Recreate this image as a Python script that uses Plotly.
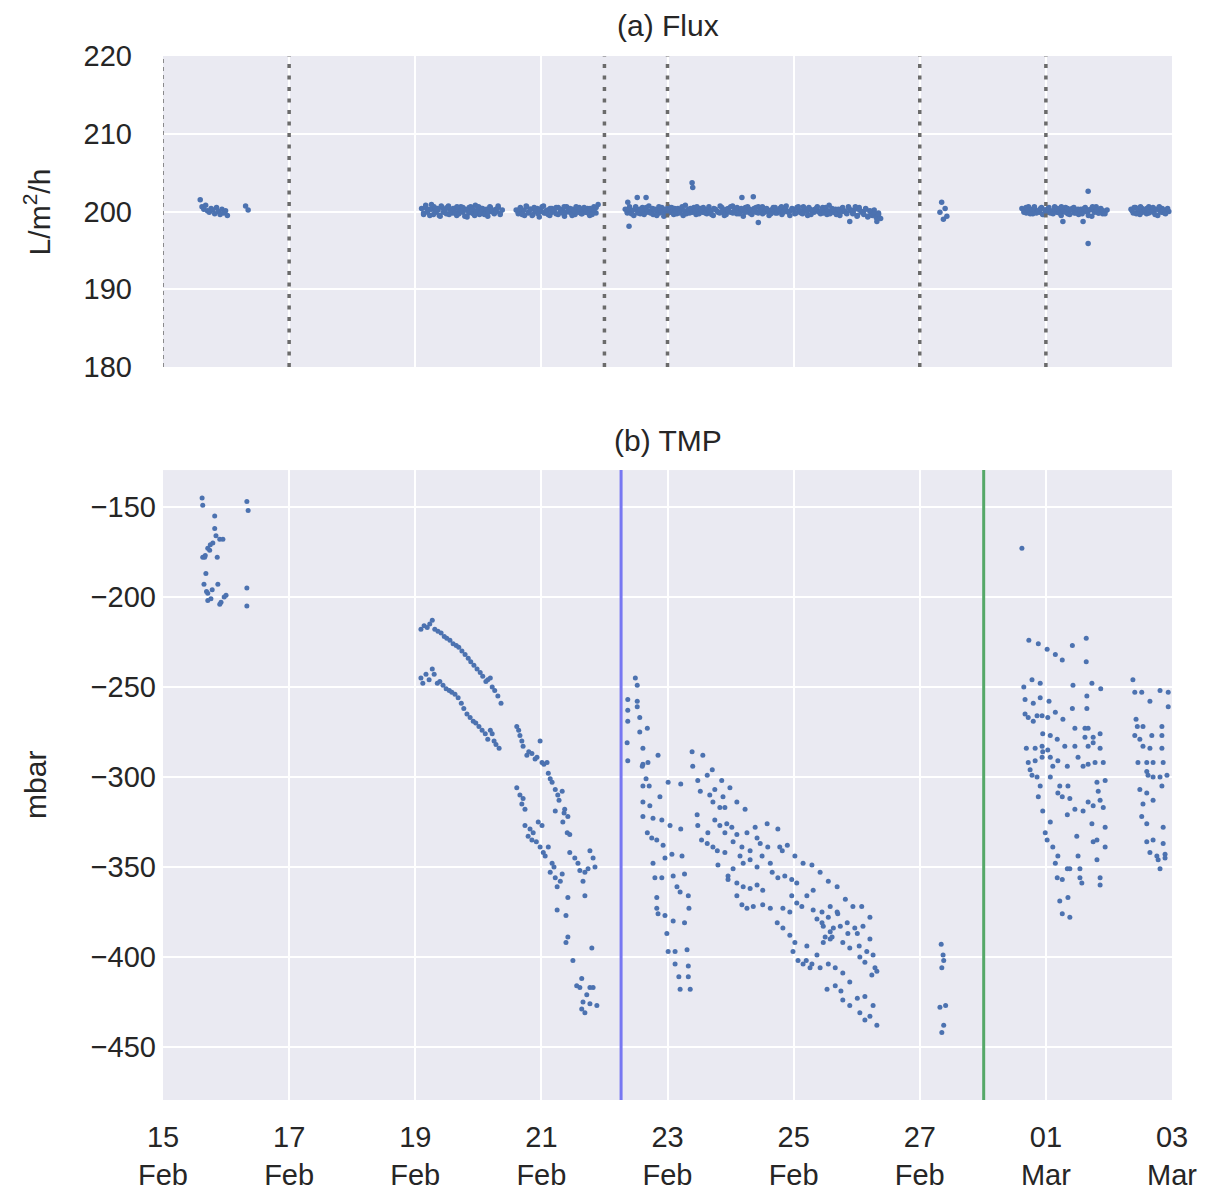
import pandas as pd
import plotly.graph_objects as go
from plotly.subplots import make_subplots

BASE = pd.Timestamp("2019-02-15")

# ---------------- Flux (L/m2/h) : logged runs (start, end, values) ----------------
flux_run1_span = ("2019-02-15 14:10", "2019-02-16 00:30")
flux_run1 = [201.5, 200.6, 200.3, 200.8, 200.1, 199.9, 200.4, 200.2, 199.7, 200.5,
             200.0, 199.6, 200.3, 199.8, 200.1, 199.5]
flux_run2_span = ("2019-02-16 07:26", "2019-02-16 08:24")
flux_run2 = [200.7, 200.2]
flux_run3_span = ("2019-02-19 02:24", "2019-02-20 09:07")
flux_run3 = [200.4, 199.6, 200.8, 200.1, 199.5, 200.3, 200.6, 199.9, 200.2, 199.4,
             200.5, 200.0, 199.7, 200.7, 200.2, 199.8, 200.4, 199.5, 200.1, 200.6,
             199.9, 200.3, 199.3, 200.5, 200.0, 199.7, 200.8, 200.2, 199.6, 200.4,
             199.9, 200.1, 199.4, 200.6, 200.0, 199.8, 200.3, 200.7, 199.6, 200.2]
flux_run3b_span = ("2019-02-19 03:10", "2019-02-20 08:20")
flux_run3b = [199.8, 200.5, 199.9, 200.3, 200.9, 199.6, 200.1, 200.4, 199.5, 200.7,
              199.9, 200.2, 200.5, 199.6, 200.0, 200.4, 199.8, 200.6, 199.7, 200.1,
              200.5, 199.4, 200.2, 199.8, 200.6, 200.3, 199.5, 199.9, 200.6, 199.8,
              200.4, 199.6, 200.3, 199.9, 200.5, 200.2, 199.7, 200.0, 200.5, 199.8]
flux_run4_span = ("2019-02-20 14:24", "2019-02-21 21:36")
flux_run4 = [200.2, 199.7, 200.5, 200.0, 199.5, 200.6, 199.9, 200.3, 199.6, 200.1,
             200.4, 199.3, 200.0, 200.7, 199.8, 200.2, 199.5, 200.4, 200.1, 199.7,
             200.5, 199.9, 200.2, 199.4, 200.6, 200.0, 199.8, 200.3, 199.6, 200.1,
             200.5, 199.7, 200.2, 199.9, 200.4, 199.5, 200.0, 200.6, 199.8, 200.9]
flux_run4b_span = ("2019-02-20 15:10", "2019-02-21 20:50")
flux_run4b = [199.9, 200.4, 199.6, 200.2, 200.7, 199.8, 200.3, 199.5, 200.5, 200.0,
              199.7, 200.3, 200.6, 199.8, 200.1, 199.6, 200.4, 199.9, 200.2, 200.5,
              199.6, 200.3, 199.8, 200.6, 199.9, 200.2, 200.4, 199.5, 200.1, 200.6,
              199.9, 200.3, 199.7, 200.5, 200.0, 199.8, 200.4, 199.6, 200.2, 200.5]
flux_run5_span = ("2019-02-22 07:55", "2019-02-26 09:07")
flux_run5 = [200.3, 199.8, 200.6, 200.1, 199.5, 200.4, 200.0, 199.7, 200.5, 200.2,
             199.9, 200.7, 200.1, 199.6, 200.3, 200.0, 199.8, 200.5, 199.4, 200.2,
             200.6, 199.9, 200.1, 200.4, 199.7, 200.0, 200.3, 199.5, 200.8, 200.1,
             199.8, 200.2, 200.5, 199.6, 200.0, 200.4, 199.9, 200.2, 199.7, 200.6,
             200.1, 199.5, 200.3, 200.0, 199.8, 200.5, 200.2, 199.6, 200.4, 199.9,
             200.7, 200.1, 199.7, 200.3, 200.0, 199.4, 200.5, 200.2, 199.8, 200.1,
             200.4, 199.9, 200.6, 200.0, 199.7, 200.3, 200.1, 199.5, 200.2, 200.5,
             199.8, 200.0, 200.4, 199.6, 200.2, 200.7, 199.9, 200.1, 200.3, 199.7,
             200.5, 200.0, 199.8, 200.6, 200.2, 199.5, 200.3, 200.1, 199.9, 200.4,
             200.0, 199.7, 200.5, 200.2, 199.6, 200.8, 200.1, 199.9, 200.3, 200.0,
             199.5, 200.4, 200.1, 199.8, 200.6, 200.2, 199.7, 200.3, 199.4, 200.5,
             200.0, 199.8, 200.4, 199.3, 200.1, 199.6, 200.2, 199.2, 199.8, 199.1]
flux_run5b_span = ("2019-02-22 08:40", "2019-02-26 08:20")
flux_run5b = [199.9, 200.4, 199.7, 200.2, 200.6, 199.8, 200.3, 200.1, 199.6, 200.5,
              200.0, 199.8, 200.4, 200.2, 199.5, 200.6, 200.1, 199.9, 200.3, 199.7,
              200.2, 200.5, 199.6, 200.0, 200.4, 199.8, 200.6, 200.1, 199.7, 200.3,
              200.4, 199.9, 200.1, 200.6, 199.7, 200.2, 200.5, 199.8, 200.3, 200.0,
              199.6, 200.4, 200.2, 199.9, 200.7, 200.0, 199.5, 200.3, 200.1, 200.6,
              199.8, 200.2, 200.5, 199.7, 200.4, 200.1, 199.9, 200.6, 200.3, 199.6,
              200.0, 200.5, 199.8, 200.2, 200.6, 199.9, 200.4, 200.0, 199.7, 200.3,
              200.5, 199.8, 200.1, 200.6, 199.9, 200.3, 200.0, 199.5, 200.4, 200.2,
              199.8, 200.6, 200.1, 199.7, 200.4, 200.0, 200.5, 199.6, 200.2, 200.3,
              200.6, 199.9, 200.2, 199.8, 200.5, 200.1, 199.7, 200.4, 200.2, 199.6,
              200.3, 199.9, 200.5, 200.0, 199.7, 200.4, 200.1, 199.8, 200.6, 199.5,
              200.2, 199.9, 199.6, 200.3, 199.4, 200.0, 199.5, 199.8, 199.3, 199.6]
flux_run6_span = ("2019-02-27 07:41", "2019-02-27 10:19")
flux_run6 = [199.9, 201.2, 199.0, 200.4, 199.4]
flux_run7_span = ("2019-02-28 14:53", "2019-03-01 23:17")
flux_run7 = [200.4, 200.1, 199.8, 200.6, 200.2, 199.7, 200.3, 200.0, 199.9, 200.5,
             199.6, 200.2, 200.4, 199.8, 200.1, 200.6, 199.9, 200.3, 199.5, 200.0,
             200.5, 199.7, 200.2, 200.4, 199.8, 200.1, 199.6, 200.3, 200.0, 200.5,
             199.9, 200.2, 199.4, 200.1, 200.6, 199.8, 200.3, 199.7, 200.0, 200.2]
flux_run7b_span = ("2019-02-28 15:40", "2019-03-01 22:30")
flux_run7b = [199.9, 200.5, 200.2, 199.7, 200.3, 200.6, 199.8, 200.1, 200.4, 199.6,
              200.2, 199.9, 200.5, 200.0, 199.7, 200.3, 200.4, 199.8, 200.6, 200.1,
              199.9, 200.4, 199.6, 200.2, 200.5, 199.8, 200.3, 200.0, 199.7, 200.4,
              200.1, 199.5, 200.3, 200.6, 199.9, 200.2, 199.8, 200.4, 200.1, 199.7]
flux_run8_span = ("2019-03-02 08:24", "2019-03-02 22:48")
flux_run8 = [200.3, 199.8, 200.5, 200.0, 199.6, 200.4, 200.1, 199.7, 200.6, 200.2,
             199.9, 200.3, 199.5, 200.1, 200.4, 199.8, 200.2, 200.0]
flux_run8b_span = ("2019-03-02 08:50", "2019-03-02 22:20")
flux_run8b = [200.1, 200.5, 199.7, 200.3, 200.6, 199.9, 200.2, 200.4, 199.8, 200.0,
              200.5, 199.6, 200.3, 200.6, 199.9, 200.2, 199.7, 200.4]
# isolated flux readings (day offset from 15 Feb, value)
flux_extra = [(7.37, 201.2), (7.39, 198.1), (7.52, 201.8), (7.66, 201.8), (8.39, 203.7),
              (8.40, 203.1), (9.18, 201.8), (9.36, 201.9), (9.44, 198.6), (10.89, 198.7),
              (11.32, 198.7), (14.27, 198.7), (14.59, 198.7), (14.67, 202.6), (14.67, 195.9)]

# ---------------- TMP (mbar) : (day offset from 15 Feb, value) ----------------
tmp_a = [(0.62, -145), (0.63, -149), (0.82, -155), (0.82, -162), (0.90, -168), (0.95, -168),
         (0.75, -171), (0.67, -177), (0.63, -178), (0.86, -178), (0.71, -173), (0.79, -170),
         (0.84, -166), (0.74, -174), (0.66, -178), (0.68, -187), (0.65, -193), (0.87, -193),
         (0.78, -196), (0.71, -198), (1.00, -199), (0.71, -202), (0.92, -203), (0.90, -204),
         (0.76, -201), (0.97, -200), (0.69, -197),
         (1.33, -147), (1.35, -152), (1.33, -195), (1.33, -205)]
tmp_b_upper = [(4.09, -218), (4.14, -216), (4.19, -217), (4.23, -215), (4.27, -213), (4.31, -218),
               (4.36, -219), (4.41, -220), (4.46, -222), (4.50, -223), (4.55, -224), (4.60, -226),
               (4.65, -227), (4.69, -228), (4.74, -230), (4.79, -232), (4.84, -234), (4.88, -236),
               (4.93, -238), (4.98, -240), (5.03, -242), (5.07, -244), (5.12, -247), (5.15, -246),
               (5.19, -245), (5.22, -250), (5.26, -252), (5.31, -255), (5.36, -259)]
tmp_b_lower = [(4.09, -245), (4.12, -248), (4.17, -243), (4.22, -246), (4.27, -240), (4.30, -243),
               (4.35, -248), (4.39, -247), (4.44, -249), (4.49, -251), (4.54, -252), (4.58, -253),
               (4.63, -254), (4.68, -256), (4.73, -259), (4.77, -262), (4.82, -265), (4.87, -267),
               (4.92, -269), (4.96, -270), (5.01, -272), (5.06, -274), (5.11, -276), (5.15, -279),
               (5.19, -274), (5.22, -276), (5.25, -280), (5.28, -282), (5.33, -284)]
tmp_c = [(5.61, -272), (5.66, -277), (5.71, -283), (5.77, -288), (5.85, -287), (5.93, -289),
         (6.01, -292), (6.09, -292), (5.98, -280), (6.11, -298), (6.17, -303), (6.22, -307),
         (6.26, -310), (6.33, -308), (6.22, -319), (6.37, -318), (6.42, -322), (6.34, -325),
         (6.41, -331), (6.45, -332), (5.64, -274), (5.69, -280), (5.80, -286), (5.90, -290),
         (6.04, -293), (6.14, -301), (6.28, -313), (6.36, -320),
         (5.61, -306), (5.66, -310), (5.71, -312), (5.74, -318), (5.74, -327), (5.82, -329),
         (5.87, -331), (5.85, -335), (5.95, -325), (6.01, -327), (5.98, -339), (6.03, -342),
         (6.11, -339), (6.06, -344), (6.17, -348), (6.14, -353), (6.22, -356), (6.30, -358),
         (6.25, -361), (6.33, -354), (5.69, -315), (5.79, -333), (5.92, -336), (6.20, -350),
         (6.45, -342), (6.53, -345), (6.58, -348), (6.61, -352), (6.69, -353), (6.77, -341),
         (6.82, -345), (6.85, -350), (6.74, -351), (6.66, -358), (6.42, -367), (6.69, -366),
         (6.25, -374), (6.39, -377), (6.42, -389), (6.39, -392), (6.50, -402), (6.80, -395),
         (6.64, -412), (6.56, -416), (6.61, -417), (6.77, -417), (6.82, -417), (6.72, -421),
         (6.66, -425), (6.77, -426), (6.88, -427), (6.64, -429), (6.69, -431)]
tmp_d = [(7.49, -245), (7.52, -249), (7.37, -257), (7.37, -263), (7.37, -269), (7.52, -258),
         (7.52, -261), (7.56, -267), (7.68, -273), (7.56, -275), (7.36, -281), (7.37, -291),
         (7.61, -284), (7.85, -288), (7.61, -293), (7.69, -292), (7.60, -294), (7.66, -301),
         (7.71, -305), (7.61, -305), (7.88, -311), (7.61, -314), (7.72, -316), (7.61, -322),
         (7.77, -323), (7.91, -324), (7.68, -331), (7.75, -334), (7.83, -335), (7.93, -338),
         (8.01, -303), (8.21, -304), (8.04, -327), (8.21, -329), (7.77, -348), (7.96, -345),
         (8.07, -343), (8.23, -344), (7.80, -356), (7.91, -356), (8.09, -355), (8.15, -361),
         (8.20, -364), (8.27, -354), (8.33, -366), (7.83, -367), (7.83, -373), (7.85, -376),
         (7.96, -377), (8.34, -373), (8.09, -380), (8.27, -381), (7.99, -387), (8.01, -397),
         (8.12, -397), (8.31, -396), (8.12, -404), (8.33, -405), (8.18, -411), (8.33, -411),
         (8.20, -418), (8.36, -418)]
tmp_e = [(8.39, -286), (8.56, -288), (8.40, -294), (8.71, -296), (8.48, -302), (8.63, -299),
         (8.86, -302), (8.52, -308), (8.67, -310), (8.75, -307), (8.99, -306), (8.88, -311),
         (8.72, -314), (8.83, -317), (8.91, -317), (9.10, -314), (9.23, -318), (8.47, -321),
         (8.48, -327), (8.64, -331), (8.54, -335), (8.63, -337), (8.72, -339), (8.79, -341),
         (8.75, -324), (8.83, -327), (8.94, -326), (9.02, -328), (8.91, -331), (9.10, -332),
         (9.04, -336), (9.26, -331), (9.39, -328), (9.58, -326), (9.75, -329), (9.42, -334),
         (9.47, -337), (9.31, -341), (9.18, -339), (8.91, -342), (9.04, -351), (8.80, -349),
         (8.96, -355), (8.96, -357), (9.15, -344), (9.20, -348), (9.31, -346), (9.42, -350),
         (9.50, -344), (9.63, -348), (9.59, -339), (9.82, -341), (9.78, -339), (9.90, -338),
         (9.10, -359), (9.20, -361), (9.31, -362), (9.42, -360), (9.51, -363), (9.10, -366),
         (9.18, -371), (9.26, -373), (9.36, -372), (9.51, -371), (9.63, -373), (9.66, -353),
         (9.75, -356), (9.86, -355), (9.97, -357), (10.05, -359), (10.02, -344), (10.15, -348),
         (10.29, -349), (10.42, -353), (10.55, -358), (10.69, -361), (9.74, -381), (9.83, -384),
         (9.97, -366), (10.05, -370), (10.13, -372), (10.21, -366), (10.31, -363), (9.83, -373),
         (9.94, -375), (9.94, -388), (10.02, -392), (9.99, -397), (10.07, -402), (10.15, -404),
         (10.26, -406), (10.21, -394), (10.37, -399), (10.47, -392), (10.58, -390), (10.37, -379),
         (10.47, -383), (10.58, -386), (10.74, -383), (10.85, -381), (11.01, -387), (10.31, -374),
         (10.45, -375), (10.55, -378), (10.69, -375), (10.82, -368), (10.94, -372), (10.58, -372),
         (11.08, -372), (11.21, -378), (10.70, -376), (10.97, -384), (11.10, -383), (11.21, -390),
         (10.45, -381), (10.63, -384), (10.86, -387), (10.50, -389), (10.61, -389), (10.78, -392),
         (10.89, -395), (11.04, -394), (11.16, -397), (11.26, -399), (11.05, -400), (11.13, -403),
         (11.29, -406), (11.32, -408), (11.24, -410), (10.20, -402), (10.29, -404), (10.42, -406),
         (10.55, -404), (10.66, -406), (10.78, -409), (10.53, -418), (10.66, -416), (10.75, -419),
         (10.89, -414), (10.78, -424), (10.89, -427), (11.01, -423), (11.13, -422), (11.26, -427),
         (11.05, -431), (11.13, -435), (11.21, -433), (11.32, -438)]
tmp_f = [(12.34, -393), (12.37, -399), (12.38, -402), (12.35, -406), (12.32, -428),
         (12.41, -427), (12.38, -438), (12.35, -442)]
tmp_g = [(13.62, -173), (13.73, -224), (13.88, -226), (14.02, -229), (14.15, -232), (14.26, -235),
         (14.42, -227), (14.64, -223), (14.64, -236), (13.78, -246), (13.91, -248), (13.65, -250),
         (13.67, -257), (13.80, -259), (13.91, -256), (14.05, -258), (14.43, -249), (14.73, -248),
         (14.87, -251), (14.65, -255), (13.67, -265), (13.72, -267), (13.80, -269), (13.86, -266),
         (13.94, -266), (14.03, -267), (14.15, -264), (14.27, -268), (14.42, -262), (14.65, -262),
         (13.95, -276), (14.07, -277), (14.18, -279), (14.46, -273), (14.62, -273), (14.67, -273),
         (14.75, -278), (14.86, -276), (14.62, -278), (13.69, -284), (13.83, -284), (13.94, -283),
         (13.95, -286), (13.94, -289), (14.03, -285), (14.30, -283), (14.46, -283), (14.67, -283),
         (14.75, -281), (14.86, -284), (13.72, -292), (13.83, -291), (13.75, -296), (13.78, -299),
         (14.07, -289), (14.11, -294), (14.19, -291), (14.34, -294), (14.51, -289), (14.59, -294),
         (14.67, -293), (14.78, -292), (14.91, -292), (13.86, -300), (13.91, -305), (13.88, -311),
         (14.07, -300), (14.22, -305), (14.35, -305), (14.19, -309), (14.26, -311), (14.38, -312),
         (14.81, -303), (14.94, -302), (14.83, -308), (14.86, -313), (14.75, -316), (14.91, -317),
         (14.67, -314), (13.95, -319), (14.07, -325), (14.34, -321), (14.46, -318), (14.59, -319),
         (13.99, -331), (14.02, -335), (14.11, -339), (14.19, -344), (14.15, -348), (14.49, -333),
         (14.73, -326), (14.75, -336), (14.81, -335), (14.94, -328), (14.94, -339), (14.81, -346),
         (14.34, -351), (14.38, -351), (14.54, -351), (14.18, -356), (14.26, -357), (14.54, -356),
         (14.57, -359), (14.86, -356), (14.86, -360), (14.51, -344), (14.22, -369), (14.35, -367),
         (14.26, -376), (14.38, -378)]
tmp_h = [(15.38, -246), (15.41, -253), (15.52, -253), (15.65, -258), (15.81, -252), (15.94, -253),
         (15.94, -261), (15.43, -268), (15.45, -272), (15.54, -272), (15.68, -277), (15.84, -272),
         (15.84, -277), (15.41, -277), (15.49, -279), (15.54, -283), (15.65, -284), (15.84, -284),
         (15.46, -292), (15.60, -292), (15.70, -292), (15.86, -292), (15.62, -299), (15.70, -300),
         (15.81, -300), (15.92, -299), (15.60, -297), (15.49, -307), (15.60, -309), (15.70, -313),
         (15.84, -305), (15.54, -315), (15.52, -322), (15.60, -326), (15.86, -328), (15.60, -336),
         (15.70, -335), (15.86, -337), (15.65, -342), (15.76, -344), (15.78, -346), (15.89, -343),
         (15.89, -345), (15.81, -351)]

# event lines
flux_event_times = ["2019-02-17", "2019-02-22", "2019-02-23", "2019-02-27", "2019-03-01"]
flux_edge_time = "2019-02-15"
tmp_blue_time = "2019-02-22 06:20"
tmp_green_time = "2019-02-28 00:20"

# ---------------- build series ----------------
flux_runs = [(flux_run1_span, flux_run1), (flux_run2_span, flux_run2),
             (flux_run3_span, flux_run3), (flux_run3b_span, flux_run3b),
             (flux_run4_span, flux_run4), (flux_run4b_span, flux_run4b),
             (flux_run5_span, flux_run5), (flux_run5b_span, flux_run5b),
             (flux_run6_span, flux_run6),
             (flux_run7_span, flux_run7), (flux_run7b_span, flux_run7b),
             (flux_run8_span, flux_run8), (flux_run8b_span, flux_run8b)]
flux_t, flux_v = [], []
for (s, e), vals in flux_runs:
    flux_t += list(pd.date_range(s, e, periods=len(vals)))
    flux_v += vals
for d, v in flux_extra:
    flux_t.append(BASE + pd.to_timedelta(d, unit="D"))
    flux_v.append(v)

tmp_all = tmp_a + tmp_b_upper + tmp_b_lower + tmp_c + tmp_d + tmp_e + tmp_f + tmp_g + tmp_h
tmp_t = [BASE + pd.to_timedelta(d, unit="D") for d, _ in tmp_all]
tmp_v = [v for _, v in tmp_all]

BLUE = "#4C72B0"
FONT = "Liberation Sans, Arial, sans-serif"
TXT = "#262626"
TICK_SIZE = 29
TITLE_SIZE = 30

fig = make_subplots(rows=2, cols=1, shared_xaxes=True, row_heights=[0.33, 0.67],
                    vertical_spacing=0.0986)

fig.add_trace(go.Scatter(x=flux_t, y=flux_v, mode="markers",
                         marker=dict(color=BLUE, size=5.5, line=dict(width=0)),
                         showlegend=False), row=1, col=1)
fig.add_trace(go.Scatter(x=tmp_t, y=tmp_v, mode="markers",
                         marker=dict(color=BLUE, size=5, line=dict(width=0)),
                         showlegend=False), row=2, col=1)

for t in flux_event_times:
    fig.add_shape(type="line", xref="x", yref="y domain", x0=t, x1=t, y0=0, y1=1,
                  line=dict(color="#6b6b6b", width=3.5, dash="4px,7.5px"), layer="above")
fig.add_shape(type="line", xref="x", yref="y domain", x0=flux_edge_time, x1=flux_edge_time,
              y0=0, y1=1, line=dict(color="#6b6b6b", width=1.5, dash="4px,4px"), layer="above")
fig.add_shape(type="line", xref="x2", yref="y2 domain", x0=tmp_blue_time, x1=tmp_blue_time,
              y0=0, y1=1, line=dict(color="#7777F2", width=3), layer="above")
fig.add_shape(type="line", xref="x2", yref="y2 domain", x0=tmp_green_time, x1=tmp_green_time,
              y0=0, y1=1, line=dict(color="#55A868", width=3), layer="above")

xcommon = dict(range=["2019-02-15", "2019-03-03"], tick0="2019-02-15", dtick=2 * 86400000,
               showgrid=True, gridcolor="white", gridwidth=1.8, zeroline=False,
               showline=False, ticks="", automargin=False)
fig.update_xaxes(**xcommon)
fig.update_xaxes(showticklabels=False, row=1, col=1)
fig.update_xaxes(tickformat="%d<br>%b", ticklabelstandoff=17,
                 tickfont=dict(size=TICK_SIZE, color=TXT, family=FONT), row=2, col=1)

fig.update_yaxes(range=[180, 220], dtick=10, showgrid=True, gridcolor="white", gridwidth=1.8,
                 zeroline=False, ticklabelstandoff=30, automargin=False,
                 tickfont=dict(size=TICK_SIZE, color=TXT, family=FONT),
                 row=1, col=1)
fig.update_yaxes(range=[-479.5, -129.5], tickvals=[-450, -400, -350, -300, -250, -200, -150],
                 showgrid=True, gridcolor="white", gridwidth=1.8, zeroline=False,
                 automargin=False,
                 ticklabelstandoff=6, tickfont=dict(size=TICK_SIZE, color=TXT, family=FONT),
                 row=2, col=1)

TOP_DOM = [0.7021, 1.0]
BOT_DOM = [0.0, 0.6034]

# panel titles
fig.add_annotation(text="(a) Flux", xref="paper", yref="paper", x=0.5, y=TOP_DOM[1], yshift=31,
                   xanchor="center", yanchor="middle", showarrow=False,
                   font=dict(size=TITLE_SIZE, color=TXT, family=FONT))
fig.add_annotation(text="(b) TMP", xref="paper", yref="paper", x=0.5, y=BOT_DOM[1], yshift=30,
                   xanchor="center", yanchor="middle", showarrow=False,
                   font=dict(size=TITLE_SIZE, color=TXT, family=FONT))
# y-axis titles
fig.add_annotation(text="L/m<sup>2</sup>/h", xref="paper", yref="paper", x=-0.125,
                   y=(TOP_DOM[0] + TOP_DOM[1]) / 2, xanchor="center", yanchor="middle",
                   textangle=-90, showarrow=False,
                   font=dict(size=TITLE_SIZE, color=TXT, family=FONT))
fig.add_annotation(text="mbar", xref="paper", yref="paper", x=-0.127,
                   y=(BOT_DOM[0] + BOT_DOM[1]) / 2, xanchor="center", yanchor="middle",
                   textangle=-90, showarrow=False,
                   font=dict(size=TITLE_SIZE, color=TXT, family=FONT))

# figure sized so that, with the page's 8px body margin, it fills the 1228x1194 window exactly
fig.update_layout(width=1220, height=1186, paper_bgcolor="white", plot_bgcolor="#EAEAF2",
                  margin=dict(l=155, r=56, t=48, b=94, autoexpand=False),
                  font=dict(family=FONT, color=TXT))
fig.update_layout(yaxis=dict(domain=TOP_DOM), yaxis2=dict(domain=BOT_DOM))

fig.write_html("out.html")
